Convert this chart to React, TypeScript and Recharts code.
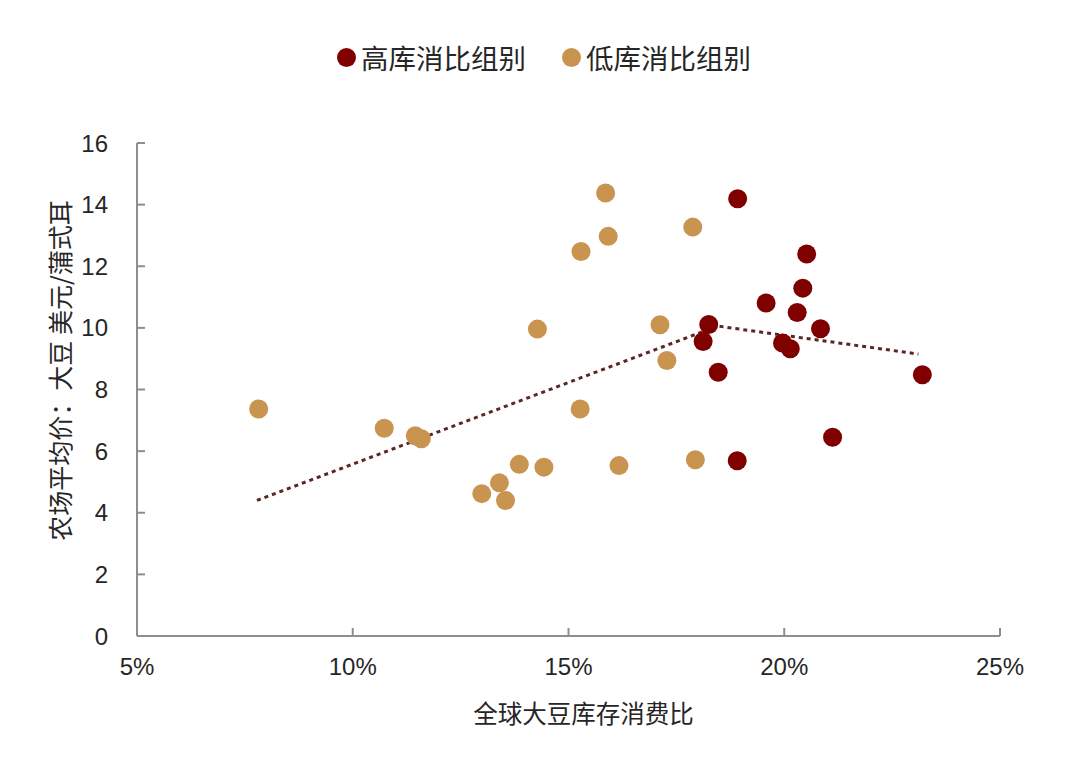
import React from "react";
import {
  ScatterChart,
  Scatter,
  XAxis,
  YAxis,
  Legend,
  Label
} from "recharts";

// 高库消比组别
const highX = [18.92, 20.52, 20.43, 19.58, 20.3, 20.84, 18.25, 18.12, 19.96, 20.14, 18.47, 23.2, 21.12, 18.91];
const highY = [14.19, 12.4, 11.29, 10.81, 10.5, 9.97, 10.11, 9.56, 9.51, 9.32, 8.56, 8.48, 6.45, 5.69];

// 低库消比组别
const lowX = [7.82, 10.73, 11.45, 11.59, 12.99, 13.4, 13.54, 13.86, 14.43, 14.28, 15.27, 15.29, 15.86, 15.92, 16.17, 17.12, 17.28, 17.88, 17.94];
const lowY = [7.37, 6.74, 6.5, 6.4, 4.62, 4.97, 4.4, 5.57, 5.48, 9.96, 7.37, 12.48, 14.38, 12.97, 5.53, 10.1, 8.94, 13.27, 5.72];

// trend lines
const trendLowX = [7.78, 18.4];
const trendLowY = [4.4, 10.03];
const trendHighX = [18.5, 23.11];
const trendHighY = [10.05, 9.15];

const xTicks = [5, 10, 15, 20, 25];
const yTicks = [0, 2, 4, 6, 8, 10, 12, 14, 16];

const zip = (xs: number[], ys: number[]) => xs.map((x, i) => ({ x, y: ys[i] }));

const highData = zip(highX, highY);
const lowData = zip(lowX, lowY);
const trendLow = zip(trendLowX, trendLowY);
const trendHigh = zip(trendHighX, trendHighY);

const RED = "#800000";
const TAN = "#c8944f";
const TREND = "#5a2626";
const AXIS = "#8e8e8e";
const TEXT = "#262626";
const cjk = '"Noto Sans CJK SC", "Noto Sans", sans-serif';
const latin = '"Liberation Sans", Arial, sans-serif';

const dot = (color: string) => (props: any) => (
  <circle cx={props.cx} cy={props.cy} r={9.5} fill={color} />
);

const noDot = () => <g />;

// high group first in the legend, as in the source
const renderLegend = (props: any) => {
  const items = (props.payload || []).filter((p: any) => p.type !== "none").reverse();
  return (
    <div
      style={{
        display: "flex",
        justifyContent: "center",
        alignItems: "center",
        height: 40,
        paddingLeft: 8,
        fontFamily: cjk,
        fontSize: 27.5,
        color: TEXT
      }}
    >
      {items.map((p: any, i: number) => (
        <div key={i} style={{ display: "flex", alignItems: "center", marginLeft: i ? 36 : 0 }}>
          <span
            style={{
              width: 19,
              height: 19,
              borderRadius: "50%",
              background: p.color,
              marginRight: 5
            }}
          />
          <span>{p.value}</span>
        </div>
      ))}
    </div>
  );
};

export default function App() {
  return (
    <div style={{ position: "absolute", left: 0, top: 0, background: "#fff" }}>
      <ScatterChart
        width={1080}
        height={765}
        margin={{ top: 103, right: 80, bottom: 0, left: 0 }}
      >
        <XAxis
          type="number"
          dataKey="x"
          domain={[5, 25]}
          ticks={xTicks}
          interval={0}
          tickFormatter={(v) => `${v}%`}
          height={129}
          stroke={AXIS}
          strokeWidth={2}
          tickSize={-8}
          tickMargin={30}
          tick={{ fill: TEXT, fontSize: 24, fontFamily: latin }}
          allowDataOverflow
        >
          <Label
            content={(p: any) => {
              const vb = p.viewBox;
              return (
                <text
                  x={vb.x + vb.width / 2 + 15}
                  y={vb.y + 76}
                  textAnchor="middle"
                  dominantBaseline="central"
                  fill={TEXT}
                  fontSize={24.5}
                  fontFamily={cjk}
                >
                  全球大豆库存消费比
                </text>
              );
            }}
          />
        </XAxis>
        <YAxis
          type="number"
          dataKey="y"
          domain={[0, 16]}
          ticks={yTicks}
          interval={0}
          width={137}
          stroke={AXIS}
          strokeWidth={2}
          tickSize={-8}
          tickMargin={37}
          tick={{ fill: TEXT, fontSize: 24, fontFamily: latin }}
          allowDataOverflow
        >
          <Label
            content={(p: any) => {
              const vb = p.viewBox;
              const cx = 59;
              const cy = vb.y + vb.height / 2 - 19;
              return (
                <text
                  x={cx}
                  y={cy}
                  transform={`rotate(-90 ${cx} ${cy})`}
                  textAnchor="middle"
                  dominantBaseline="central"
                  fill={TEXT}
                  fontSize={25}
                  fontFamily={cjk}
                >
                  农场平均价：大豆 美元/蒲式耳
                </text>
              );
            }}
          />
        </YAxis>
        <Legend
          verticalAlign="top"
          align="center"
          content={renderLegend}
          wrapperStyle={{ top: 37, left: 0, width: 1080 }}
        />
        <Scatter
          name="trendLow"
          data={trendLow}
          legendType="none"
          line={{ stroke: TREND, strokeWidth: 3, strokeDasharray: "4 4" }}
          shape={noDot}
          isAnimationActive={false}
        />
        <Scatter
          name="trendHigh"
          data={trendHigh}
          legendType="none"
          line={{ stroke: TREND, strokeWidth: 3, strokeDasharray: "4 4" }}
          shape={noDot}
          isAnimationActive={false}
        />
        <Scatter
          name="低库消比组别"
          data={lowData}
          fill={TAN}
          shape={dot(TAN)}
          isAnimationActive={false}
        />
        <Scatter
          name="高库消比组别"
          data={highData}
          fill={RED}
          shape={dot(RED)}
          isAnimationActive={false}
        />
      </ScatterChart>
    </div>
  );
}
